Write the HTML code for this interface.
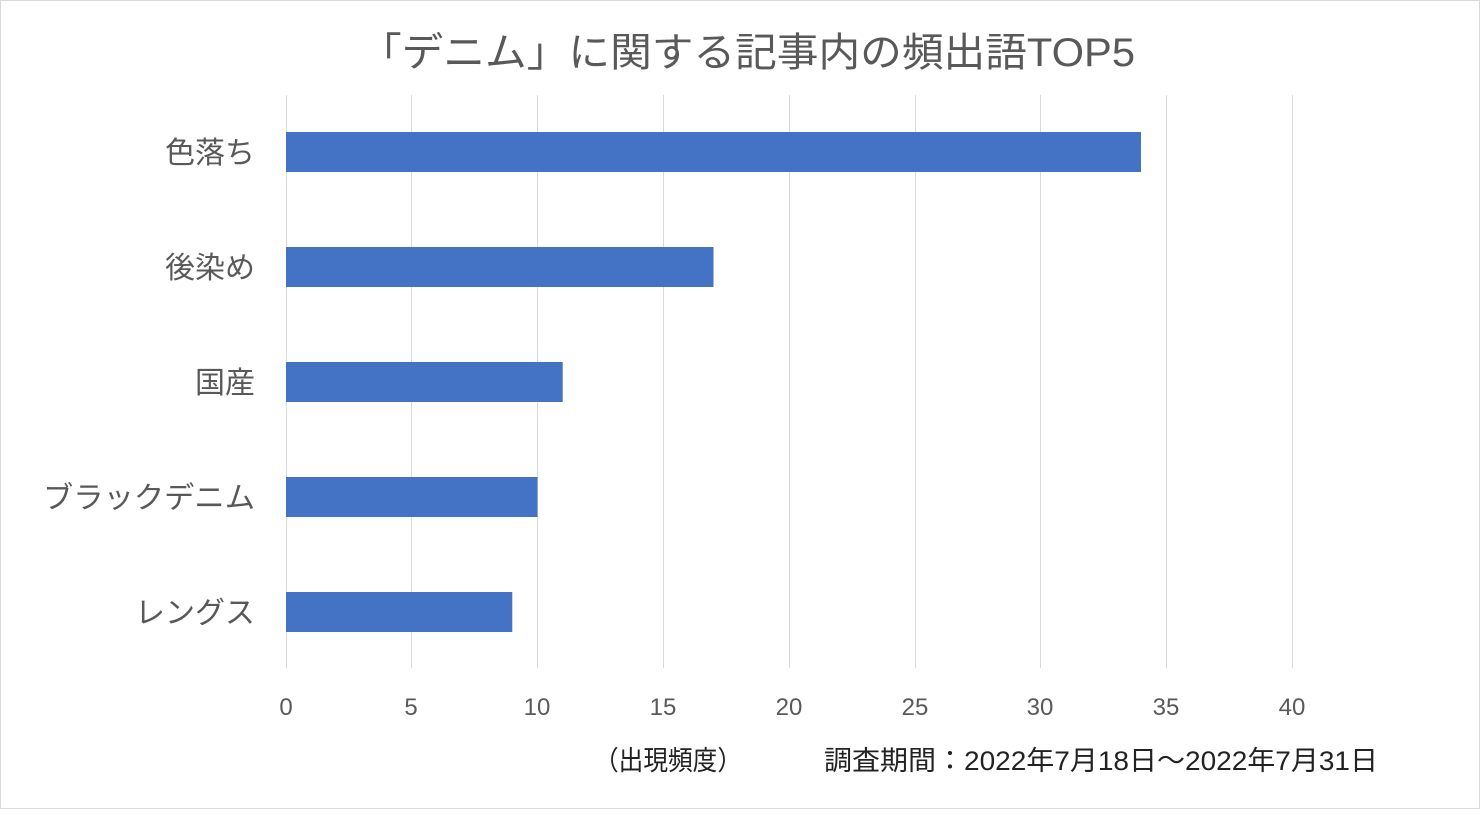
<!DOCTYPE html>
<html><head><meta charset="utf-8"><style>
body{margin:0;background:#fff;}
svg text{font-family:"Liberation Sans","Noto Sans CJK JP",sans-serif;}
</style></head><body>
<svg width="1480" height="809" xmlns="http://www.w3.org/2000/svg">
<rect x="0.5" y="0.5" width="1479" height="808" fill="#fff" stroke="#d9d9d9"/>
<text x="360" y="66" font-size="40" fill="#595959" textLength="775" lengthAdjust="spacingAndGlyphs">「デニム」に関する記事内の頻出語TOP5</text>
<g stroke="#d9d9d9" stroke-width="1">
<line x1="286.5" y1="95" x2="286.5" y2="668"/>
<line x1="411.5" y1="95" x2="411.5" y2="668"/>
<line x1="537.5" y1="95" x2="537.5" y2="668"/>
<line x1="663.5" y1="95" x2="663.5" y2="668"/>
<line x1="789.5" y1="95" x2="789.5" y2="668"/>
<line x1="915.5" y1="95" x2="915.5" y2="668"/>
<line x1="1040.5" y1="95" x2="1040.5" y2="668"/>
<line x1="1166.5" y1="95" x2="1166.5" y2="668"/>
<line x1="1292.5" y1="95" x2="1292.5" y2="668"/>
</g>
<g fill="#4472c4">
<rect x="286" y="132" width="855" height="40"/>
<rect x="286" y="247" width="427.5" height="40"/>
<rect x="286" y="362" width="276.7" height="40"/>
<rect x="286" y="477" width="251.5" height="40"/>
<rect x="286" y="592" width="226.3" height="40"/>
</g>
<g font-size="30" fill="#595959" text-anchor="end">
<text x="255" y="163">色落ち</text>
<text x="255" y="278">後染め</text>
<text x="255" y="393">国産</text>
<text x="255" y="508" textLength="212" lengthAdjust="spacingAndGlyphs">ブラックデニム</text>
<text x="255" y="623">レングス</text>
</g>
<g font-size="24" fill="#595959" text-anchor="middle">
<text x="286" y="715">0</text>
<text x="411" y="715">5</text>
<text x="537" y="715">10</text>
<text x="663" y="715">15</text>
<text x="789" y="715">20</text>
<text x="915" y="715">25</text>
<text x="1040" y="715">30</text>
<text x="1166" y="715">35</text>
<text x="1292" y="715">40</text>
</g>
<text x="594" y="770" font-size="27" fill="#222" textLength="148" lengthAdjust="spacingAndGlyphs">（出現頻度）</text>
<text x="824" y="770" font-size="27" fill="#222" textLength="554" lengthAdjust="spacingAndGlyphs">調査期間：2022年7月18日～2022年7月31日</text>
</svg>
</body></html>
